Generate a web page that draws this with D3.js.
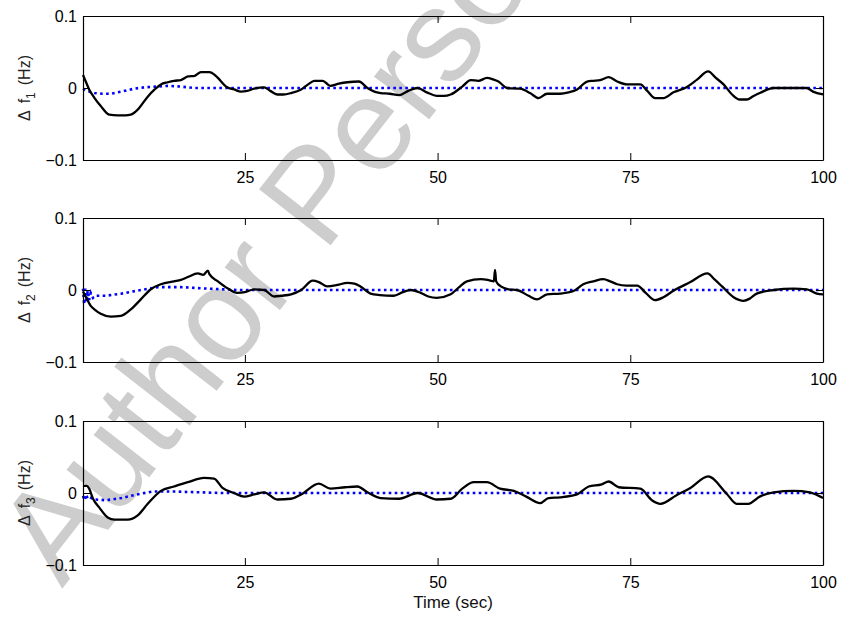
<!DOCTYPE html>
<html>
<head>
<meta charset="utf-8">
<script src="https://cdn.jsdelivr.net/npm/d3@7"></script>
<style>
  body { margin: 0; background: #fff; }
  text { font-family: "Liberation Sans", Arial, Helvetica, sans-serif; }
</style>
</head>
<body>
<svg id="chart" width="841" height="619"></svg>
<script>
// [time (s), deviation (Hz)]
const f1Solid = [[4,0.018],[4.4,0.008],[4.8,-0.002],[5.5,-0.014],[6.3,-0.025],[7.4,-0.037],[8.5,-0.038],[9.5,-0.038],[10.2,-0.037],[11.1,-0.030],[12.4,-0.012],[13.3,-0.002],[14.1,0.005],[15,0.008],[15.8,0.010],[16.7,0.011],[17.6,0.016],[18.5,0.017],[19.3,0.022],[20.4,0.022],[21,0.019],[21.5,0.014],[22.7,0.001],[23.6,-0.002],[24.5,-0.005],[25.3,-0.004],[26.2,-0.001],[27.5,0.001],[28.3,-0.004],[29.2,-0.009],[30,-0.009],[31,-0.007],[32.3,-0.002],[33.2,0.005],[34,0.010],[35.1,0.010],[36.1,0.003],[37.2,0.006],[38.3,0.008],[39.8,0.009],[40.9,0.000],[41.8,-0.005],[42.6,-0.007],[43.8,-0.008],[45,-0.010],[46.2,-0.004],[47.4,0.000],[48.6,-0.006],[49.9,-0.011],[50.8,-0.011],[51.7,-0.009],[53.2,0.002],[54.3,0.011],[55.3,0.010],[56.4,0.014],[57.2,0.012],[57.9,0.009],[59,0.000],[60.7,-0.001],[62,-0.007],[63.1,-0.014],[64.2,-0.008],[65.9,-0.008],[67,-0.006],[68.1,-0.002],[69.4,0.009],[70.2,0.010],[71.1,0.011],[72.2,0.015],[73.3,0.009],[74.6,0.005],[76.3,0.005],[77.2,-0.004],[78.2,-0.014],[79.3,-0.014],[80.6,-0.006],[82.3,0.001],[83.7,0.012],[85.1,0.023],[86.1,0.014],[87.1,0.005],[88.2,-0.009],[89.2,-0.016],[90.1,-0.016],[91,-0.011],[91.8,-0.007],[93.6,0],[95.7,0],[97.9,0],[98.7,-0.005],[100,-0.009]];
const f1Dotted = [[4,-0.001],[4.5,-0.004],[5.5,-0.007],[6.5,-0.008],[7.6,-0.008],[9,-0.005],[10.6,-0.001],[12,0.001],[13.7,0.002],[15,0.003],[16.7,0.002],[18.4,0],[100,0]];

const f2Solid = [[4,-0.002],[4.3,-0.008],[5,-0.022],[5.6,-0.028],[6.3,-0.033],[7.6,-0.037],[8.9,-0.036],[10.2,-0.027],[11.5,-0.013],[12.8,0.001],[14.1,0.008],[15.8,0.012],[16.7,0.014],[17.6,0.018],[18.9,0.023],[19.6,0.021],[20.2,0.027],[20.4,0.022],[21.5,0.012],[22.8,0.002],[24,-0.004],[25,-0.003],[26.2,0.001],[27.5,0],[28.8,-0.009],[29.7,-0.008],[31,-0.006],[32.3,0],[33.8,0.013],[34.6,0.011],[35.7,0.005],[37,0.007],[38.3,0.010],[39.2,0.009],[40,0.005],[41.3,-0.005],[42.5,-0.007],[44.3,-0.008],[45.5,-0.003],[46.5,0],[47.8,-0.004],[48.8,-0.009],[49.9,-0.011],[51.7,-0.006],[52.8,0.004],[53.8,0.012],[55.6,0.015],[56.5,0.014],[57.3,0.012],[57.45,0.028],[57.6,0.012],[58.2,0.005],[59.2,0.001],[60.3,0],[61.8,-0.008],[62.9,-0.013],[64.2,-0.006],[65.9,-0.005],[67.7,-0.001],[68.9,0.008],[70.2,0.012],[71.5,0.015],[72.4,0.012],[73.3,0.008],[74.5,0.006],[75.9,0.006],[77,-0.004],[78.2,-0.014],[79.3,-0.010],[80.6,-0.001],[82.8,0.011],[85,0.023],[86,0.014],[86.9,0.005],[88.4,-0.010],[89.7,-0.015],[90.5,-0.012],[91.4,-0.005],[93.6,0],[96.2,0.002],[97.9,0.001],[99.2,-0.005],[100,-0.006]];
const f2Dotted = [[4,0.002],[4.15,-0.020],[4.3,0.002],[4.45,-0.017],[4.6,-0.001],[4.8,-0.014],[5,-0.004],[5.3,-0.011],[5.6,-0.008],[7,-0.008],[9,-0.005],[11,-0.001],[13.7,0.004],[16.7,0.004],[20,0.002],[24,0],[100,0]];

const f3Solid = [[4,0.010],[4.5,0.010],[4.8,0.006],[5.3,-0.008],[6.1,-0.020],[7.2,-0.034],[8.1,-0.037],[9.8,-0.037],[11.1,-0.031],[12.4,-0.015],[14.1,0.003],[15.8,0.009],[17.6,0.015],[19.7,0.021],[21,0.020],[22.1,0.007],[23.6,0],[24.9,-0.005],[26.2,-0.002],[27.5,0.001],[29.2,-0.009],[31,-0.008],[32.3,-0.002],[34.6,0.013],[36.1,0.006],[38,0.008],[39.6,0.009],[40.9,0.001],[42.6,-0.007],[45,-0.008],[47.4,0],[49.9,-0.009],[51.7,-0.008],[53.2,0.006],[54.7,0.015],[56.4,0.015],[58.1,0.006],[59.9,0.003],[61.5,-0.005],[63.3,-0.014],[64.4,-0.007],[65.9,-0.006],[68.1,-0.002],[69.6,0.009],[71.3,0.012],[72.2,0.016],[73.5,0.008],[76.3,0.006],[77.8,-0.010],[78.9,-0.015],[81,-0.003],[82.8,0.007],[85.1,0.023],[87.5,-0.001],[88.8,-0.015],[90.3,-0.015],[91.8,-0.005],[93.6,0.001],[96.2,0.003],[98.3,0.001],[100,-0.007]];
const f3Dotted = [[4,-0.004],[4.2,-0.010],[4.4,-0.002],[4.6,-0.008],[4.9,-0.006],[5.5,-0.009],[7,-0.010],[9,-0.007],[11,-0.002],[13,0.002],[16,0.002],[19,0.001],[22,0],[100,0]];

const xTicks = [25, 50, 75, 100];
const yTicks = [-0.1, 0, 0.1];
const yLabels = ["1", "2", "3"];

const svg = d3.select("#chart");

// watermark sits under everything else
svg.append("text")
    .attr("transform", "translate(62,589) rotate(-52)")
    .attr("font-size", 132)
    .attr("fill", "#cdcdcd")
    .text("Author Personal Copy");

const left = 83, right = 823, plotH = 144;
const tops = [16, 218, 421];

const x = d3.scaleLinear().domain([4, 100]).range([left, right]);

const panels = [
    {solid: f1Solid, dotted: f1Dotted},
    {solid: f2Solid, dotted: f2Dotted},
    {solid: f3Solid, dotted: f3Dotted}
];

panels.forEach((p, i) => {
    const top = tops[i];
    const y = d3.scaleLinear().domain([-0.1, 0.1]).range([top + plotH, top]);
    const g = svg.append("g");

    const dotLine = d3.line().x(d => x(d[0])).y(d => y(d[1]));
    const solidLine = d3.line().x(d => x(d[0])).y(d => y(d[1])).curve(d3.curveMonotoneX);

    g.append("path")
        .datum(p.dotted)
        .attr("d", dotLine)
        .attr("fill", "none")
        .attr("stroke", "#0000ff")
        .attr("stroke-width", 2.6)
        .attr("stroke-dasharray", "2.6,3.4");

    g.append("path")
        .datum(p.solid)
        .attr("d", solidLine)
        .attr("fill", "none")
        .attr("stroke", "#000")
        .attr("stroke-width", 2.3)
        .attr("stroke-linejoin", "round");

    // box + inward ticks, MATLAB style
    const bottomAx = g.append("g")
        .attr("transform", `translate(0,${top + plotH})`)
        .call(d3.axisBottom(x).tickValues(xTicks).tickSizeInner(-7).tickSizeOuter(0).tickPadding(12));
    const topAx = g.append("g")
        .attr("transform", `translate(0,${top})`)
        .call(d3.axisTop(x).tickValues(xTicks).tickSizeInner(-7).tickSizeOuter(0).tickFormat(""));
    const leftAx = g.append("g")
        .attr("transform", `translate(${left},0)`)
        .call(d3.axisLeft(y).tickValues(yTicks).tickSizeInner(-7).tickSizeOuter(0).tickPadding(6)
            .tickFormat(d => d === 0 ? "0" : d3.format(".1f")(d)));
    const rightAx = g.append("g")
        .attr("transform", `translate(${right},0)`)
        .call(d3.axisRight(y).tickValues(yTicks).tickSizeInner(-7).tickSizeOuter(0).tickFormat(""));

    [bottomAx, topAx, leftAx, rightAx].forEach(a => {
        a.select(".domain").attr("stroke", "#000").attr("stroke-width", 1.2);
        a.selectAll(".tick line").attr("stroke", "#000");
        a.selectAll("text").attr("font-family", "Liberation Sans, Arial, sans-serif")
            .attr("font-size", 16).attr("fill", "#000");
    });

    // y label: Δ f_i (Hz)
    const lab = svg.append("text")
        .attr("transform", `translate(30,${top + plotH / 2}) rotate(-90)`)
        .attr("text-anchor", "middle")
        .attr("font-size", 16)
        .attr("fill", "#222");
    lab.append("tspan").text("\u0394");
    lab.append("tspan").attr("dx", 7).text("f");
    lab.append("tspan").attr("font-size", 12).attr("dy", 5).text(yLabels[i]);
    lab.append("tspan").attr("dy", -5).attr("dx", 7).text("(Hz)");
});

svg.append("text")
    .attr("x", (left + right) / 2)
    .attr("y", 608)
    .attr("text-anchor", "middle")
    .attr("font-size", 17)
    .attr("fill", "#111")
    .text("Time (sec)");
</script>
</body>
</html>
